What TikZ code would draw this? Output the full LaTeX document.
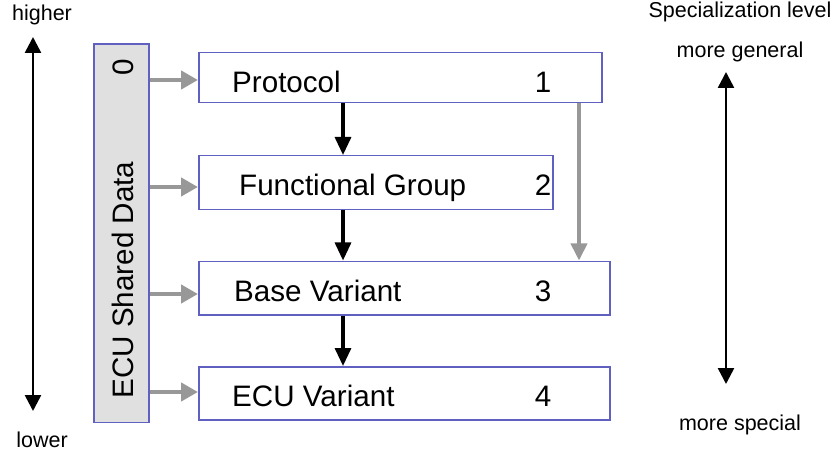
\documentclass[tikz,border=0pt]{standalone}
\usepackage{fontspec}
\setmainfont{Liberation Sans}
\usetikzlibrary{arrows.meta}
\definecolor{boxblue}{RGB}{96,96,192}
\definecolor{shgray}{RGB}{224,224,224}
\definecolor{arrgray}{RGB}{152,152,152}
\tikzset{
  box/.style={draw=boxblue, line width=1.5pt, fill=white, anchor=north west, inner sep=0pt},
  big/.style={font=\fontsize{29.6}{34}\selectfont, inner sep=0pt},
  small/.style={font=\fontsize{21.5}{26}\selectfont, inner sep=0pt},
  grayarr/.style={draw=arrgray, line width=4.8pt, -{Triangle[width=18pt,length=17pt]}, arrgray},
  blackarr/.style={draw=black, line width=3.2pt, -{Triangle[width=16pt,length=18pt]}},
  scalearr/.style={draw=black, line width=2.6pt, {Triangle[width=16pt,length=16pt]}-{Triangle[width=16pt,length=16pt]}}
}
\begin{document}
\begin{tikzpicture}[x=1pt,y=-1pt]
\useasboundingbox (0,0) rectangle (837,454);
% shared data box
\node[box, fill=shgray, minimum width=55pt, minimum height=378pt] (shared) at (93,43.5) {};
\node[big, rotate=90, anchor=base] (zero) at (133,67) {0};
\node[big, rotate=90, anchor=base] (sharedtxt) at (133,280) {ECU Shared Data};
% layer boxes
\node[box, minimum width=403pt, minimum height=50pt] (proto) at (198,52) {};
\node[box, minimum width=354pt, minimum height=54pt] (fg) at (198,155) {};
\node[box, minimum width=411pt, minimum height=53.5pt] (bv) at (198,260.5) {};
\node[box, minimum width=411pt, minimum height=53pt] (ev) at (198,366) {};
% texts
\node[big, anchor=base west] (protot) at (232,92.5) {Protocol};
\node[big, anchor=base] (n1) at (543,92.5) {1};
\node[big, anchor=base west] (fgt) at (239,196) {Functional Group};
\node[big, anchor=base] (n2) at (543,196) {2};
\node[big, anchor=base west] (bvt) at (234,301) {Base Variant};
\node[big, anchor=base] (n3) at (543,301) {3};
\node[big, anchor=base west] (evt) at (232,406.5) {ECU Variant};
\node[big, anchor=base] (n4) at (543,406.5) {4};
% gray arrows from shared data
\draw[grayarr] (shared.east |- 0,80) -- (proto.west |- 0,80);
\draw[grayarr] (shared.east |- 0,187) -- (fg.west |- 0,187);
\draw[grayarr] (shared.east |- 0,294) -- (bv.west |- 0,294);
\draw[grayarr] (shared.east |- 0,392) -- (ev.west |- 0,392);
% black arrows
\draw[blackarr] (proto.south -| 343,0) -- (fg.north -| 343,0);
\draw[blackarr] (fg.south -| 343,0) -- (bv.north -| 343,0);
\draw[blackarr] (bv.south -| 343,0) -- (ev.north -| 343,0);
% gray arrow protocol -> base variant
\draw[grayarr, line width=3.8pt, -{Triangle[width=16pt,length=17pt]}] (proto.south -| 579,0) -- (bv.north -| 579,0);
% left scale
\node[small, anchor=base] (higher) at (42,21) {higher};
\node[small, anchor=base] (lower) at (42,447) {lower};
\coordinate (ltop) at (33,37);
\coordinate (lbot) at (33,411);
\draw[scalearr] (lbot) -- (ltop);
% right scale
\node[small, anchor=base] (spec) at (740,18) {Specialization level};
\node[small, anchor=base] (gen) at (740,58) {more general};
\node[small, anchor=base] (spc) at (740,430) {more special};
\coordinate (rtop) at (726,72);
\coordinate (rbot) at (726,384);
\draw[scalearr] (rbot) -- (rtop);
\end{tikzpicture}
\end{document}
